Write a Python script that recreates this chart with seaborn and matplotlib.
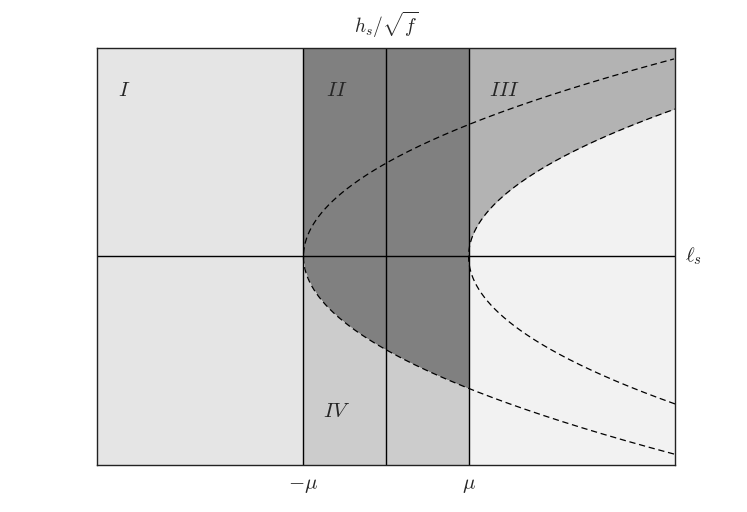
import numpy as np
import pandas as pd
import matplotlib.pyplot as plt
import seaborn as sns

sns.set_theme(style="white")
plt.rcParams['mathtext.fontset'] = 'cm'
plt.rcParams['font.family'] = ['DejaVu Sans']

# Parámetros del diagrama (mu = 1, parábolas l = ±mu + a h^2)
mu = 1.0
a = 5.0
x_lim = [-3.5, 3.5]
y_lim = [-1.0, 1.0]
vert_lines = [-mu, 0.0, mu]
tick_pos = [-mu, mu]
tick_labels = [r'$-\mu$', r'$\mu$']

region_names = [r'$I$', r'$II$', r'$III$', r'$IV$']
region_x = [-3.17, -0.6, 1.43, -0.6]
region_y = [0.8, 0.8, 0.8, -0.74]

colores = {'I': '#e5e5e5', 'II': '#808080', 'III': '#b3b3b3',
           'IV': '#cccccc', 'V': '#f2f2f2'}

fig = plt.figure(figsize=(7.47, 5.12), dpi=100)
ax = fig.add_axes([0.1299, 0.0918, 0.7737, 0.8145])

# Región I
ax.fill_between([x_lim[0], -mu], y_lim[0], y_lim[1], color=colores['I'], lw=0)

# Regiones II y IV
xm = np.linspace(-mu, mu, 400)
hb = -np.sqrt((xm + mu) / a)
ax.fill_between(xm, hb, y_lim[1], color=colores['II'], lw=0)
ax.fill_between(xm, y_lim[0], hb, color=colores['IV'], lw=0)

# Región III y zona inferior derecha
xr = np.linspace(mu, x_lim[1], 400)
hu = np.sqrt((xr - mu) / a)
ax.fill_between(xr, hu, y_lim[1], color=colores['III'], lw=0)
ax.fill_between(xr, y_lim[0], hu, color=colores['V'], lw=0)

# Parábolas discontinuas
h = np.linspace(-1.0, 1.0, 800)
curvas = []
for s, nombre in [(-1, 'izq'), (1, 'der')]:
    curvas.append(pd.DataFrame({'l': s * mu + a * h ** 2, 'h': h, 'curva': nombre}))
df = pd.concat(curvas, ignore_index=True)
df = df[df['l'] <= x_lim[1] + 0.01]
for nombre, grupo in df.groupby('curva'):
    sns.lineplot(data=grupo, x='l', y='h', sort=False, estimator=None, ax=ax,
                 color='black', lw=0.9, linestyle=(0, (5, 3)))

# Líneas de referencia
for xv in vert_lines:
    ax.axvline(xv, color='black', lw=1.0)
ax.axhline(0, color='black', lw=1.0)

for nombre, xt, yt in zip(region_names, region_x, region_y):
    ax.text(xt, yt, nombre, fontsize=15, ha='center', va='center')

ax.set_xlim(x_lim)
ax.set_ylim(y_lim)
ax.set_xticks(tick_pos)
ax.set_xticklabels(tick_labels, fontsize=15)
ax.set_yticks([])
ax.tick_params(axis='x', length=0, pad=7)
ax.set_xlabel('')
ax.set_ylabel('')
for sp in ax.spines.values():
    sp.set_color('#222222')
    sp.set_linewidth(1.0)

ax.text(0.0, 1.11, r'$h_s/\sqrt{f}$', fontsize=14, ha='center', va='center')
ax.text(3.72, 0.0, r'$\ell_s$', fontsize=15, ha='center', va='center')

fig.savefig('out.png', dpi=100)
